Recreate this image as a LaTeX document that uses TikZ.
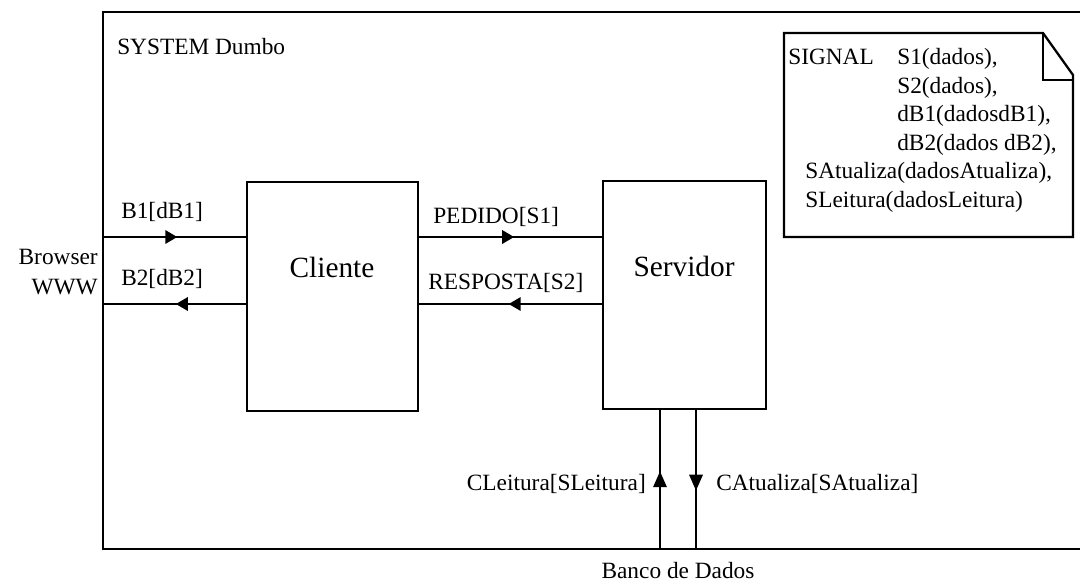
\documentclass[tikz,border=0pt]{standalone}
\usepackage{fontspec}
\setmainfont{Liberation Serif}
\usetikzlibrary{arrows.meta,decorations.markings}

\tikzset{
  wire/.style={line width=1.7pt},
  block/.style={draw, line width=1.7pt, inner sep=0pt},
  lbl/.style={inner sep=0pt, font=\fontsize{17.5}{21}\selectfont},
  big/.style={inner sep=0pt, font=\fontsize{22}{26}\selectfont},
  midarrow/.style={postaction={decorate, decoration={markings,
      mark=at position #1 with {\arrow{Triangle[length=9pt,width=10pt]}}}}},
  midarrowv/.style={postaction={decorate, decoration={markings,
      mark=at position #1 with {\arrow{Triangle[length=12pt,width=10pt]}}}}}
}

\begin{document}
\begin{tikzpicture}[x=0.75pt, y=-0.75pt]
\useasboundingbox (0,0) rectangle (1080,583);

% system frame (open to the right)
\coordinate (ftr) at (1080,12);
\coordinate (ftl) at (103,12);
\coordinate (fbl) at (103,549);
\coordinate (fbr) at (1080,549);
\draw[wire] (ftr) -- (ftl) -- (fbl) -- (fbr);
\node[lbl, anchor=west] (title) at (117,47) {SYSTEM Dumbo};

% blocks
\node[block, minimum width=128.25pt, minimum height=171.75pt] (cli) at (332.5,296.5) {};
\node[big] (clitxt) at (332,267) {Cliente};
\node[block, minimum width=122.25pt, minimum height=171pt] (srv) at (684.5,295) {};
\node[big] (srvtxt) at (684,266) {Servidor};

% ports on the frame
\coordinate (b1in) at (103,237);
\coordinate (b2out) at (103,304);
\coordinate (dbl) at (660,549);
\coordinate (dbr) at (696,549);

% channels
\draw[wire, midarrow=0.52] (b1in) -- (b1in -| cli.west);
\draw[wire, midarrow=0.49] (b2out -| cli.west) -- (b2out);
\draw[wire, midarrow=0.52] (cli.east |- b1in) -- (srv.west |- b1in);
\draw[wire, midarrow=0.51] (srv.west |- b2out) -- (cli.east |- b2out);
\draw[wire, midarrowv=0.56] (dbl) -- (dbl |- srv.south);
\draw[wire, midarrowv=0.58] (dbr |- srv.south) -- (dbr);

% channel labels
\node[lbl, anchor=west] (lb1) at (121,212) {B1[dB1]};
\node[lbl, anchor=west] (lb2) at (121,279) {B2[dB2]};
\node[lbl, anchor=west] (lped) at (433,217) {PEDIDO[S1]};
\node[lbl, anchor=west] (lresp) at (428,283) {RESPOSTA[S2]};
\node[lbl, anchor=east] (lcl) at (646,484) {CLeitura[SLeitura]};
\node[lbl, anchor=west] (lca) at (716,484) {CAtualiza[SAtualiza]};

% environment
\node[lbl, anchor=east] (brw1) at (98,257) {Browser};
\node[lbl, anchor=east] (brw2) at (98,287) {WWW};
\node[lbl] (banco) at (678,571) {Banco de Dados};

% signal declaration sheet with folded corner
\draw[wire] (784,33) -- (1043,33) -- (1073,75) -- (1073,237) -- (784,237) -- cycle;
\draw[wire] (1043,33) -- (1043,80) -- (1073,80);
\node[lbl, anchor=base west] (sig0) at (788,64) {SIGNAL};
\node[lbl, anchor=base west] (sig1) at (897,64) {S1(dados),};
\node[lbl, anchor=base west] (sig2) at (897,93) {S2(dados),};
\node[lbl, anchor=base west] (sig3) at (897,121) {dB1(dadosdB1),};
\node[lbl, anchor=base west] (sig4) at (897,150) {dB2(dados dB2),};
\node[lbl, anchor=base west] (sig5) at (805,178) {SAtualiza(dadosAtualiza),};
\node[lbl, anchor=base west] (sig6) at (805,207) {SLeitura(dadosLeitura)};
\end{tikzpicture}
\end{document}
